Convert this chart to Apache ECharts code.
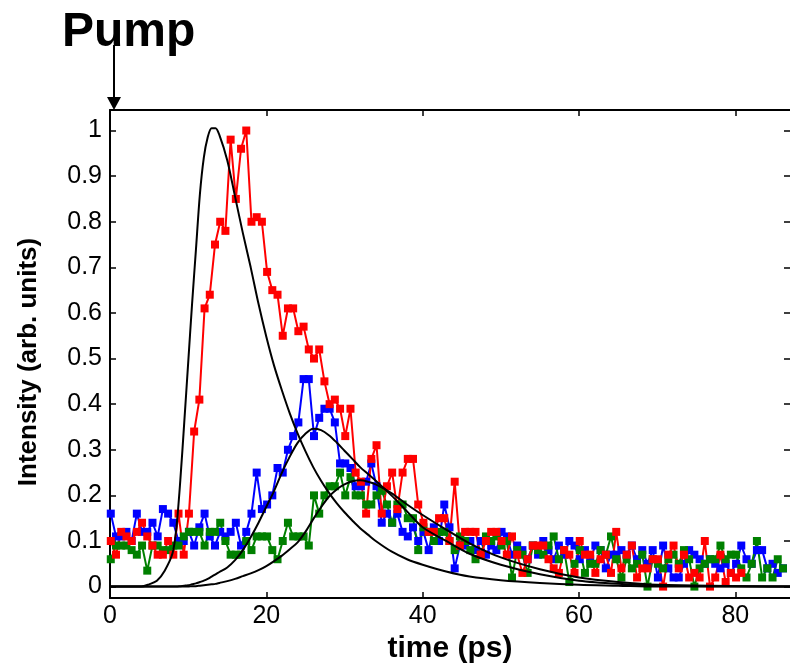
<!DOCTYPE html>
<html>
<head>
<meta charset="utf-8">
<script src="https://cdn.jsdelivr.net/npm/echarts@6/dist/echarts.min.js"></script>
<style>
  html, body { margin: 0; padding: 0; background: #fff; }
  #chart { width: 790px; height: 665px; }
</style>
</head>
<body>
<div id="chart"></div>
<script>
// sampling of the measured traces (ps)
const t0 = 0.1;
const dt = 2 / 3;

const redValues = [
  0.10, 0.07, 0.12, 0.11, 0.10, 0.12, 0.14, 0.11, 0.09, 0.07,
  0.07, 0.10, 0.07, 0.16, 0.07, 0.16, 0.34, 0.41, 0.61, 0.64,
  0.75, 0.80, 0.78, 0.98, 0.85, 0.96, 1.00, 0.80, 0.81, 0.80,
  0.69, 0.65, 0.64, 0.55, 0.61, 0.61, 0.56, 0.57, 0.52, 0.50,
  0.52, 0.45, 0.40, 0.41, 0.39, 0.33, 0.39, 0.25, 0.23, 0.16,
  0.28, 0.31, 0.16, 0.22, 0.25, 0.17, 0.25, 0.28, 0.28, 0.18,
  0.14, 0.12, 0.12, 0.15, 0.15, 0.10, 0.23, 0.09, 0.12, 0.12,
  0.12, 0.07, 0.10, 0.12, 0.12, 0.10, 0.07, 0.11, 0.07, 0.03,
  0.06, 0.09, 0.09, 0.09, 0.06, 0.04, 0.03, 0.08, 0.07, 0.03,
  0.10, 0.07, 0.07, 0.03, 0.06, 0.07, 0.03, 0.12, 0.04, 0.07,
  0.09, 0.02, 0.04, 0.04, 0.06, 0.06, 0.00, 0.07, 0.09, 0.04,
  0.07, 0.02, 0.03, 0.02, 0.10, 0.00, 0.02, 0.07, 0.01, 0.03,
  0.02, 0.03
];

const blueValues = [
  0.16, 0.11, 0.11, 0.12, 0.10, 0.16, 0.12, 0.12, 0.14, 0.11,
  0.17, 0.16, 0.14, 0.10, 0.10, 0.12, 0.09, 0.13, 0.16, 0.11,
  0.09, 0.12, 0.11, 0.12, 0.14, 0.09, 0.12, 0.16, 0.25, 0.17,
  0.18, 0.20, 0.26, 0.25, 0.30, 0.33, 0.36, 0.455, 0.455, 0.33,
  0.37, 0.39, 0.39, 0.36, 0.27, 0.27, 0.26, 0.22, 0.22, 0.23,
  0.27, 0.22, 0.14, 0.16, 0.14, 0.16, 0.12, 0.11, 0.13, 0.10,
  0.12, 0.08, 0.13, 0.10, 0.18, 0.13, 0.04, 0.09, 0.09, 0.10,
  0.08, 0.10, 0.07, 0.09, 0.08, 0.12, 0.11, 0.07, 0.09, 0.08,
  0.06, 0.09, 0.07, 0.10, 0.08, 0.06, 0.09, 0.07, 0.10, 0.09,
  0.06, 0.08, 0.06, 0.09, 0.08, 0.04, 0.07, 0.07, 0.08, 0.07,
  0.09, 0.06, 0.08, 0.05, 0.08, 0.02, 0.09, 0.04, 0.02, 0.02,
  0.05, 0.08, 0.07, 0.06, 0.05, 0.06, 0.05, 0.04, 0.05, 0.03,
  0.05, 0.09, 0.06, 0.05, 0.08, 0.08, 0.04, 0.05, 0.03, 0.04
];

const greenValues = [
  0.06, 0.09, 0.09, 0.09, 0.08, 0.07, 0.09, 0.035, 0.09, 0.09,
  0.08, 0.08, 0.09, 0.09, 0.11, 0.12, 0.12, 0.12, 0.09, 0.12,
  0.12, 0.14, 0.10, 0.07, 0.07, 0.07, 0.10, 0.08, 0.11, 0.11,
  0.11, 0.08, 0.06, 0.10, 0.14, 0.11, 0.11, 0.11, 0.09, 0.20,
  0.16, 0.20, 0.22, 0.22, 0.25, 0.20, 0.24, 0.20, 0.20, 0.18,
  0.18, 0.20, 0.21, 0.18, 0.14, 0.18, 0.18, 0.15, 0.15, 0.08,
  0.13, 0.12, 0.10, 0.12, 0.12, 0.10, 0.08, 0.11, 0.10, 0.08,
  0.06, 0.07, 0.11, 0.10, 0.11, 0.09, 0.10, 0.02, 0.08, 0.07,
  0.03, 0.09, 0.08, 0.07, 0.09, 0.11, 0.06, 0.08, 0.01, 0.05,
  0.08, 0.03, 0.05, 0.05, 0.08, 0.07, 0.11, 0.06, 0.02, 0.06,
  0.04, 0.05, 0.07, 0.00, 0.06, 0.05, 0.04, 0.06, 0.07, 0.05,
  0.08, 0.06, 0.00, 0.04, 0.05, 0.06, 0.06, 0.09, 0.06, 0.07,
  0.07, 0.04, 0.02, 0.05, 0.10, 0.02, 0.04, 0.02, 0.06, 0.04
];

// model curves (black)
const fitTime = [
  0, 4, 5, 6, 7, 8, 8.5, 9, 9.5, 10, 10.5, 11, 11.5, 12, 12.5, 13, 13.5, 14,
  15, 16, 17, 18, 19, 20, 21, 22, 23, 24, 25, 26, 27, 28, 29, 30, 31, 32, 33, 34,
  36, 38, 40, 43, 46, 50, 55, 60, 65, 70, 87
];
const fit1 = [
  0, 0, 0.005, 0.013, 0.035, 0.073, 0.13, 0.234, 0.36, 0.49, 0.62, 0.74, 0.86, 0.94, 0.985, 1.005, 1.005, 0.99,
  0.935, 0.855, 0.775, 0.70, 0.62, 0.548, 0.484, 0.43, 0.38, 0.336, 0.297, 0.262, 0.232, 0.206, 0.183, 0.163, 0.145, 0.128, 0.114, 0.10,
  0.077, 0.06, 0.048, 0.033, 0.022, 0.014, 0.008, 0.004, 0.002, 0, 0
];
const fit2 = [
  0, 0, 0, 0, 0, 0, 0, 0.001, 0.002, 0.003, 0.005, 0.007, 0.01, 0.013, 0.017, 0.022, 0.027, 0.032,
  0.042, 0.058, 0.08, 0.108, 0.14, 0.175, 0.21, 0.25, 0.285, 0.315, 0.335, 0.346, 0.343, 0.332, 0.316, 0.298, 0.28, 0.262, 0.247, 0.232,
  0.20, 0.165, 0.13, 0.10, 0.072, 0.048, 0.027, 0.013, 0.006, 0.002, 0
];
const fit3 = [
  0, 0, 0, 0, 0, 0, 0, 0, 0, 0, 0.001, 0.001, 0.002, 0.003, 0.004, 0.005, 0.006, 0.008,
  0.012, 0.017, 0.023, 0.029, 0.036, 0.045, 0.056, 0.068, 0.082, 0.097, 0.12, 0.148, 0.174, 0.197, 0.213, 0.224, 0.231, 0.233, 0.23, 0.224,
  0.205, 0.18, 0.157, 0.125, 0.095, 0.064, 0.038, 0.02, 0.01, 0.004, 0
];

const xTicks = [0, 20, 40, 60, 80];
const yTicks = [0, 0.1, 0.2, 0.3, 0.4, 0.5, 0.6, 0.7, 0.8, 0.9, 1];

const font = 'Liberation Sans, Arial, sans-serif';

const withTime = (vals) => vals.map((v, i) => [t0 + i * dt, v]);
const withFitTime = (vals) => vals.map((v, i) => [fitTime[i], v]);

const chart = echarts.init(document.getElementById('chart'), null, { renderer: 'canvas' });

const dataSeries = (name, vals, color) => ({
  name: name,
  type: 'line',
  data: withTime(vals),
  symbol: 'rect',
  symbolSize: 8,
  showSymbol: true,
  lineStyle: { color: color, width: 2 },
  itemStyle: { color: color },
  z: 3,
  animation: false
});

const fitSeries = (vals) => ({
  type: 'line',
  data: withFitTime(vals),
  symbol: 'none',
  smooth: 0.3,
  lineStyle: { color: '#000', width: 2 },
  z: 5,
  animation: false
});

const axisLine = { show: true, onZero: false, lineStyle: { color: '#000', width: 2 } };

chart.setOption({
  animation: false,
  grid: { left: 110, top: 110, right: 0, bottom: 67, outerBoundsMode: 'none', containLabel: false },
  xAxis: [
    {
      type: 'value', min: 0, max: 87,
      name: 'time (ps)', nameLocation: 'middle', nameGap: 35,
      nameTextStyle: { fontFamily: font, fontSize: 30, fontWeight: 'bold', color: '#000' },
      axisLine: axisLine,
      axisTick: { show: true, inside: true, length: 6, customValues: xTicks, lineStyle: { color: '#000', width: 1.5 } },
      axisLabel: { customValues: xTicks, fontFamily: font, fontSize: 25, color: '#000', margin: 6 },
      splitLine: { show: false }
    },
    {
      type: 'value', min: 0, max: 87, position: 'top',
      axisLine: axisLine,
      axisTick: { show: true, inside: true, length: 6, customValues: xTicks, lineStyle: { color: '#000', width: 1.5 } },
      axisLabel: { show: false },
      splitLine: { show: false }
    }
  ],
  yAxis: [
    {
      type: 'value', min: -0.025, max: 1.045,
      name: 'Intensity (arb. units)', nameLocation: 'middle', nameGap: 68,
      nameTextStyle: { fontFamily: font, fontSize: 26, fontWeight: 'bold', color: '#000', padding: [0, 16, 0, 0] },
      axisLine: axisLine,
      axisTick: { show: true, inside: true, length: 6, customValues: yTicks, lineStyle: { color: '#000', width: 1.5 } },
      axisLabel: {
        customValues: yTicks, fontFamily: font, fontSize: 25, color: '#000', margin: 8,
        formatter: (v) => (v === 0 || v === 1 ? String(v) : v.toFixed(1))
      },
      splitLine: { show: false }
    },
    {
      type: 'value', min: -0.025, max: 1.045, position: 'right',
      axisLine: { show: false, onZero: false },
      axisTick: { show: true, inside: true, length: 6, customValues: yTicks, lineStyle: { color: '#000', width: 1.5 } },
      axisLabel: { show: false },
      splitLine: { show: false }
    }
  ],
  series: [
    dataSeries('blue', blueValues, '#0000ff'),
    dataSeries('green', greenValues, '#008000'),
    dataSeries('red', redValues, '#ff0000'),
    fitSeries(fit1),
    fitSeries(fit2),
    fitSeries(fit3)
  ]
});

// "Pump" arrow pointing at t = 0 on the top axis
const px = chart.convertToPixel({ xAxisIndex: 0 }, 0) + 4;
const topY = chart.convertToPixel({ yAxisIndex: 0 }, 1.045);
chart.setOption({
  graphic: [
    {
      type: 'text', left: 62, top: 9,
      style: { text: 'Pump', font: 'bold 48px ' + font, fill: '#000' }
    },
    {
      type: 'line',
      shape: { x1: px, y1: 45, x2: px, y2: topY - 10 },
      style: { stroke: '#000', lineWidth: 2 }
    },
    {
      type: 'polygon',
      shape: { points: [[px - 7, topY - 13], [px + 7, topY - 13], [px, topY]] },
      style: { fill: '#000' }
    }
  ]
});
</script>
</body>
</html>
